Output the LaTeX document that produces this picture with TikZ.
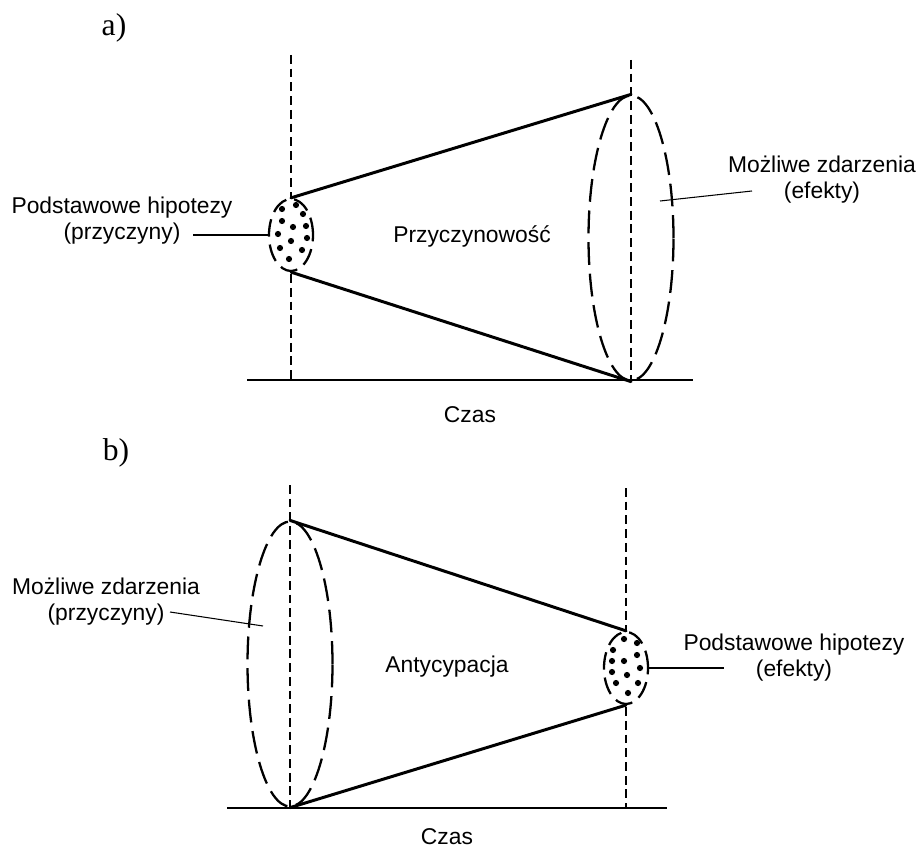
\documentclass[tikz,border=0pt]{standalone}
\usepackage{fontspec}
\setmainfont{Liberation Sans}
\newfontfamily\serifpl{Liberation Serif}
\usetikzlibrary{shapes.geometric}
\tikzset{
  lbl/.style={font=\fontsize{13}{14.8}\selectfont,align=center,inner sep=0pt},
  tag/.style={font=\serifpl\fontsize{18}{20}\selectfont,inner sep=0pt},
  vln/.style={dash pattern=on 5pt off 2.8pt,line width=0.8pt},
  base/.style={line width=1pt},
  cone/.style={line width=1.7pt,line cap=round},
  lead/.style={line width=0.6pt},
  big/.style={ellipse,draw,dash pattern=on 13pt off 5pt,line width=1.3pt,
    minimum width=1.7cm,minimum height=5.7cm,inner sep=0pt},
  small/.style={ellipse,draw,fill=white,dash pattern=on 10pt off 4.5pt,line width=1.3pt,
    minimum width=0.88cm,minimum height=1.44cm,inner sep=0pt},
}
\begin{document}
\begin{tikzpicture}[x=0.02cm,y=-0.02cm]
  \useasboundingbox (0,0) rectangle (920,851);
  % a) przyczynowosc
  \node[tag] (ta) at (114,28) {a)};
  \coordinate (aL0) at (291,55);  \coordinate (aL1) at (291,380);
  \coordinate (aR0) at (631,60);  \coordinate (aR1) at (631,380);
  \coordinate (aB0) at (247,380); \coordinate (aB1) at (693,380);
  \draw[base] (aB0) -- (aB1);
  \draw[vln] (aL0) -- (aL1);
  \draw[vln] (aR0) -- (aR1);
  \node[big] (bA) at (631,238) {};
  \node[small] (sA) at (291,235) {};
  \draw[cone] (sA.north) -- (bA.north);
  \draw[cone] (sA.south) -- (bA.south);
  \foreach \dx/\dy in {-9/-26,5/-30,12/-21,-9/-14,2/-8,15/-9,-13/-1,0/6,16/3,-11/13,11/15,-2/24}
    \fill (sA) ++(\dx,\dy) circle (3.1);
  \node[lbl] (hA) at (122,221) {Podstawowe hipotezy\\(przyczyny)};
  \coordinate (hAe) at (193,235);
  \draw[lead] (hAe) -- (sA.west);
  \node[lbl] (mA) at (822,180) {Możliwe zdarzenia\\(efekty)};
  \coordinate (mAe) at (752,191); \coordinate (mAi) at (660,201);
  \draw[lead] (mAe) -- (mAi);
  \node[lbl] (pA) at (472,236) {Przyczynowość};
  \node[lbl] (cA) at (470,415) {Czas};

  % b) antycypacja
  \node[tag] (tb) at (116,453) {b)};
  \coordinate (bL0) at (290,485); \coordinate (bL1) at (290,808);
  \coordinate (bR0) at (626,488); \coordinate (bR1) at (626,808);
  \coordinate (bB0) at (227,808); \coordinate (bB1) at (667,808);
  \draw[base] (bB0) -- (bB1);
  \draw[vln] (bL0) -- (bL1);
  \draw[vln] (bR0) -- (bR1);
  \node[big] (bB) at (290,664) {};
  \node[small] (sB) at (626,668) {};
  \draw[cone] (bB.north) -- (sB.north);
  \draw[cone] (bB.south) -- (sB.south);
  \foreach \dx/\dy in {-2/-29,11/-25,-13/-18,11/-13,-14/-7,-2/-7,14/0,-14/4,1/7,-10/15,12/15,2/25}
    \fill (sB) ++(\dx,\dy) circle (3.1);
  \node[lbl] (mB) at (106,602) {Możliwe zdarzenia\\(przyczyny)};
  \coordinate (mBe) at (170,612); \coordinate (mBi) at (263,626);
  \draw[lead] (mBe) -- (mBi);
  \node[lbl] (hB) at (794,658) {Podstawowe hipotezy\\(efekty)};
  \coordinate (hBe) at (724,668);
  \draw[lead] (sB.east) -- (hBe);
  \node[lbl] (pB) at (447,667) {Antycypacja};
  \node[lbl] (cB) at (447,837) {Czas};
\end{tikzpicture}
\end{document}
